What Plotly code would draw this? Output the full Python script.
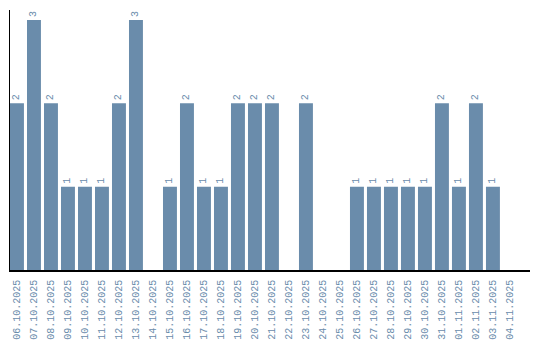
import plotly.graph_objects as go

dates = ["06.10.2025", "07.10.2025", "08.10.2025", "09.10.2025", "10.10.2025",
         "11.10.2025", "12.10.2025", "13.10.2025", "14.10.2025", "15.10.2025",
         "16.10.2025", "17.10.2025", "18.10.2025", "19.10.2025", "20.10.2025",
         "21.10.2025", "22.10.2025", "23.10.2025", "24.10.2025", "25.10.2025",
         "26.10.2025", "27.10.2025", "28.10.2025", "29.10.2025", "30.10.2025",
         "31.10.2025", "01.11.2025", "02.11.2025", "03.11.2025", "04.11.2025"]
counts = [2, 3, 2, 1, 1, 1, 2, 3, 0, 1,
          2, 1, 1, 2, 2, 2, 0, 2, 0, 0,
          1, 1, 1, 1, 1, 2, 1, 2, 1, 0]

color = "#6a8cab"
labels = [str(v) if v else "" for v in counts]

fig = go.Figure(go.Bar(
    x=list(range(len(dates))), y=counts,
    marker=dict(color=color, line=dict(width=0)),
    text=labels, textposition="outside", textangle=-90,
    textfont=dict(family="Liberation Mono", size=10, color=color),
    cliponaxis=False, width=0.82,
))
fig.update_layout(
    width=540, height=340,
    margin=dict(l=10, r=10, t=10, b=70),
    paper_bgcolor="white", plot_bgcolor="white",
    showlegend=False,
    xaxis=dict(range=[-0.41, 30.18], tickmode="array",
               tickvals=list(range(len(dates))), ticktext=dates,
               tickangle=-90, showgrid=False, zeroline=False,
               showline=True, linecolor="black", linewidth=1.5,
               ticks="outside", ticklen=4, tickcolor="rgba(0,0,0,0)",
               automargin=False,
               tickfont=dict(family="Liberation Mono", size=10, color=color)),
    yaxis=dict(range=[0, 3.12], showgrid=False, zeroline=False,
               showline=True, linecolor="black", linewidth=1,
               showticklabels=False, ticks="", automargin=False),
)
fig.write_html("out.html")
